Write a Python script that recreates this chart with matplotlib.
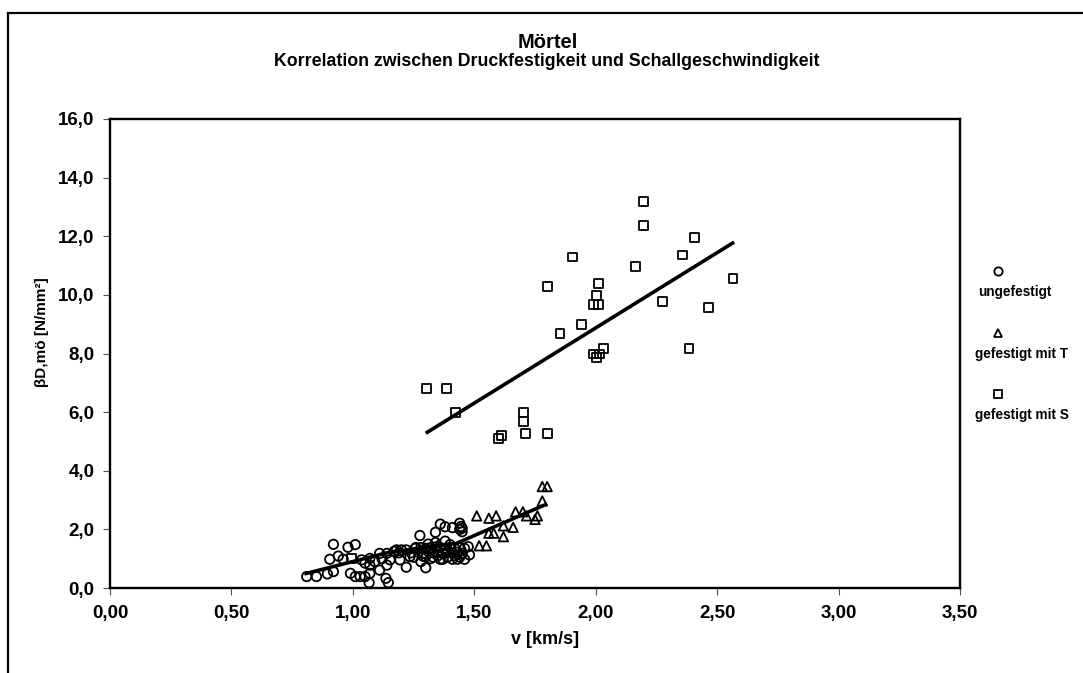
import matplotlib
matplotlib.use("Agg")
import matplotlib.pyplot as plt
from matplotlib.lines import Line2D
from matplotlib.ticker import FixedLocator, FuncFormatter

plt.rcParams['font.family'] = ['Liberation Sans', 'DejaVu Sans']

# --- data: velocity v [km/s] vs. compressive strength [N/mm²] ---
ungef_v = [0.81, 0.85, 0.895, 0.92, 0.92, 0.905, 0.94, 0.96, 0.98, 1.01, 0.99, 1.01,
           1.03, 1.05, 1.07, 1.067, 1.07, 1.036, 1.07, 1.11, 1.11, 1.14, 1.153, 1.136,
           1.146, 1.14, 1.18, 1.20, 1.22, 1.194, 1.22, 1.256, 1.276, 1.235, 1.05, 1.09,
           1.12, 1.17, 1.19, 1.28, 1.30, 1.30, 1.34, 1.36, 1.38, 1.41, 1.44, 1.45, 1.45,
           1.475, 1.48, 1.46, 1.43, 1.41, 1.36, 1.37, 1.32, 1.26, 1.28, 1.30, 1.32, 1.34,
           1.36, 1.38, 1.40, 1.42, 1.44, 1.46, 1.24, 1.27, 1.29, 1.31, 1.33, 1.35, 1.37,
           1.39, 1.41, 1.43, 1.45, 1.25, 1.29, 1.33, 1.35, 1.39, 1.42, 1.44, 1.34, 1.38,
           1.40, 1.31, 1.44, 1.445]
ungef_b = [0.39, 0.39, 0.48, 0.56, 1.49, 0.98, 1.09, 0.98, 1.39, 1.48, 0.50, 0.39,
           0.39, 0.39, 0.50, 0.18, 0.78, 0.96, 1.01, 1.18, 0.61, 0.78, 0.96, 0.33,
           0.18, 1.18, 1.30, 1.30, 1.30, 0.96, 0.71, 1.35, 1.79, 1.07, 0.85, 0.90,
           1.00, 1.25, 1.20, 0.90, 0.69, 1.07, 1.90, 2.18, 2.09, 2.06, 2.21, 1.92, 2.04,
           1.41, 1.13, 0.98, 0.98, 0.98, 0.98, 0.98, 1.00, 1.38, 1.38, 1.35, 1.38, 1.40,
           1.38, 1.35, 1.38, 1.35, 1.38, 1.35, 1.20, 1.22, 1.18, 1.25, 1.20, 1.22, 1.18,
           1.25, 1.20, 1.22, 1.18, 1.05, 1.08, 1.05, 1.10, 1.05, 1.10, 1.05, 1.55, 1.60,
           1.48, 1.50, 2.00, 2.10]

trass_v = [1.78, 1.80, 1.78, 1.67, 1.70, 1.715, 1.76, 1.75, 1.51, 1.56, 1.59, 1.62,
           1.66, 1.56, 1.58, 1.62, 1.52, 1.55, 1.35, 1.40, 1.45]
trass_b = [3.46, 3.46, 2.97, 2.60, 2.60, 2.46, 2.46, 2.34, 2.46, 2.38, 2.46, 2.12,
           2.07, 1.87, 1.87, 1.75, 1.44, 1.44, 1.47, 1.30, 1.40]

sil_v = [2.197, 2.197, 2.407, 2.356, 1.903, 2.164, 2.565, 2.013, 1.803, 2.004, 1.990,
         2.013, 2.274, 2.465, 1.942, 1.853, 2.031, 1.990, 2.004, 2.015, 2.384, 1.304,
         1.385, 1.424, 1.702, 1.702, 1.711, 1.800, 1.611, 1.599, 0.995]
sil_b = [13.18, 12.38, 11.97, 11.36, 11.29, 10.98, 10.55, 10.38, 10.28, 9.98, 9.68,
         9.68, 9.77, 9.57, 8.99, 8.68, 8.18, 7.98, 7.86, 7.98, 8.17, 6.80,
         6.80, 6.00, 6.00, 5.68, 5.28, 5.28, 5.19, 5.11, 1.01]

# trend lines (start / end points of each series' regression)
trend_ungef_v = [0.80, 1.15, 1.42]
trend_ungef_b = [0.48, 1.22, 1.52]
trend_trass_v = [1.42, 1.80]
trend_trass_b = [1.50, 2.87]
trend_sil_v = [1.30, 2.57]
trend_sil_b = [5.28, 11.80]

legend_labels = ["ungefestigt", "gefestigt mit T", "gefestigt mit S"]

x_ticks = [0.0, 0.5, 1.0, 1.5, 2.0, 2.5, 3.0, 3.5]
y_ticks = [0, 2, 4, 6, 8, 10, 12, 14, 16]

W, H = 1083, 673
fig = plt.figure(figsize=(W / 100, H / 100), dpi=100)
ax = fig.add_axes([110 / W, 1 - 588 / H, 850 / W, 469 / H])

mk = dict(facecolors='none', edgecolors='black', linewidths=1.3, s=46, zorder=3)
ax.scatter(ungef_v, ungef_b, marker='o', **mk)
ax.scatter(trass_v, trass_b, marker='^', **mk)
ax.scatter(sil_v, sil_b, marker='s', **dict(mk, s=40))

for tv, tb in [(trend_ungef_v, trend_ungef_b), (trend_trass_v, trend_trass_b),
               (trend_sil_v, trend_sil_b)]:
    ax.plot(tv, tb, color='black', lw=2.6, solid_capstyle='butt', zorder=4)

ax.set_xlim(0, 3.5)
ax.set_ylim(0, 16)
ax.xaxis.set_major_locator(FixedLocator(x_ticks))
ax.yaxis.set_major_locator(FixedLocator(y_ticks))
ax.xaxis.set_major_formatter(FuncFormatter(lambda v, p: f"{v:.2f}".replace('.', ',')))
ax.yaxis.set_major_formatter(FuncFormatter(lambda v, p: f"{v:.1f}".replace('.', ',')))
ax.tick_params(direction='out', length=5, width=0.8, labelsize=13.5, color='#555555')
ax.tick_params(axis='x', pad=7)
ax.tick_params(axis='y', pad=6)
for lab in ax.get_xticklabels() + ax.get_yticklabels():
    lab.set_fontweight('bold')
for sp in ax.spines.values():
    sp.set_linewidth(1.7)

ax.set_xlabel("v [km/s]", fontsize=13, fontweight='bold', va='center')
ax.xaxis.set_label_coords((545 - 110) / 850, (588 - 640) / 469)
ax.set_ylabel("βD,mö [N/mm²]", fontsize=11, fontweight='bold', va='center')
ax.yaxis.set_label_coords((42 - 110) / 850, (588 - 332) / 469)

fig.text(548 / W, 1 - 42 / H, "Mörtel", ha='center', va='center',
         fontsize=14.5, fontweight='bold')
fig.text(547 / W, 1 - 62 / H, "Korrelation zwischen Druckfestigkeit und Schallgeschwindigkeit",
         ha='center', va='center', fontsize=12.8, fontweight='bold')

# legend outside the plot area: marker above its label
leg_markers = ['o', '^', 's']
leg_y = [271, 333, 394]
for m, lab, yy in zip(leg_markers, legend_labels, leg_y):
    fig.add_artist(Line2D([998 / W], [1 - yy / H], marker=m, markersize=6,
                          markerfacecolor='none', markeredgecolor='black',
                          markeredgewidth=1.3, linestyle='none'))
    fig.text(975 / W if lab != legend_labels[0] else 978 / W, 1 - (yy + 21) / H, lab,
             ha='left', va='center', fontsize=9.8, fontweight='bold')

# outer chart frame
fig.add_artist(Line2D([8 / W, 8 / W], [0, 1 - 13 / H], color='black', lw=1.6))
fig.add_artist(Line2D([8 / W, 1], [1 - 13 / H, 1 - 13 / H], color='black', lw=1.6))

fig.savefig("out.png", dpi=100)
